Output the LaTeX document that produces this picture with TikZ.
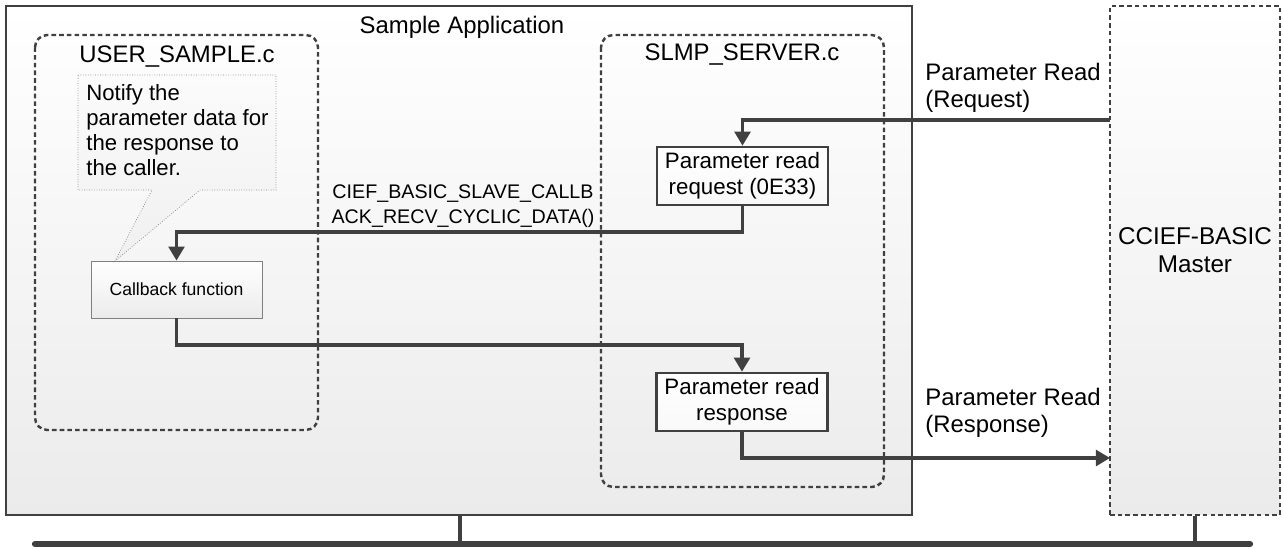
\documentclass[tikz,border=0pt]{standalone}
\usepackage{fontspec}
\setmainfont{Liberation Sans}
\usetikzlibrary{arrows.meta}
\definecolor{linegray}{HTML}{404040}
\definecolor{boxgray}{HTML}{EBEBEB}

\begin{document}
\begin{tikzpicture}[x=0.02cm,y=-0.02cm,font=\fontsize{13.6}{15.5}\selectfont,
  group/.style={draw=linegray,line width=1.4pt,dash pattern=on 2.6pt off 1.8pt,rounded corners=7pt},
  func/.style={draw=linegray,line width=1.5pt,top color=white,bottom color=gray!5,align=center,minimum width=3.42cm,minimum height=1.16cm,inner sep=0pt,font=\fontsize{12.7}{14.6}\selectfont},
  cbbox/.style={draw=gray,line width=0.5pt,top color=white,bottom color=boxgray,minimum width=3.42cm,minimum height=1.14cm,inner sep=0pt,font=\fontsize{10}{12}\selectfont},
  master/.style={draw=linegray,line width=1.4pt,dash pattern=on 2.6pt off 1.8pt,top color=white,bottom color=boxgray,minimum width=3.4cm,minimum height=10.18cm,inner sep=0pt},
  note/.style={draw=gray,line width=0.4pt,densely dotted,top color=gray!3,bottom color=gray!12},
  flow/.style={draw=linegray,line width=1.8pt,-{Triangle[width=9pt,length=8pt]}},
  wire/.style={draw=linegray,line width=1.8pt},
  bus/.style={draw=linegray,line width=3.6pt,line cap=round}]
\useasboundingbox (0,0) rectangle (1284,548);

\draw[draw=linegray,line width=1.5pt,top color=white,bottom color=boxgray] (6,6) rectangle (912,515);
\node[anchor=base] (apptitle) at (462,33) {Sample Application};

\draw[group] (35,35) rectangle (318,430);
\node[anchor=base] (usertitle) at (177,62) {USER\_SAMPLE.c};
\draw[group] (601,35) rectangle (884,487);
\node[anchor=base] (slmptitle) at (742,60) {SLMP\_SERVER.c};

\node[master] (master) at (1195,260.5) {};
\node[align=center,font=\fontsize{13.8}{16}\selectfont] (mastertext) at (1195,250) {CCIEF-BASIC\\Master};

\node[func] (req) at (742.5,176) {Parameter read\\request (0E33)};
\node[func] (resp) at (742,402) {Parameter read\\response};
\node[cbbox] (cb) at (176.5,289.5) {Callback function};

\draw[note] (78,75) -- (276,75) -- (276,190) -- (200,190) -- (115,261) -- (152,190) -- (78,190) -- cycle;
\node[anchor=north west,align=left,inner sep=0pt,font=\fontsize{12.6}{14.2}\selectfont] (notetext) at (86,84) {Notify the\\parameter data for\\the response to\\the caller.};

\coordinate (reqin) at (1110,120);
\coordinate (respout) at (1110,458);
\draw[flow] (reqin) -| (req.north);
\draw[flow] (req.south) -- (req.south |- 0,232) -| (cb.north);
\draw[flow] (cb.south) -- (cb.south |- 0,345) -| (resp.north);
\draw[flow] (resp.south) |- (respout);

\node[anchor=north west,align=left,inner sep=0pt] (reqlabel) at (925,63) {Parameter Read\\(Request)};
\node[anchor=north west,align=left,inner sep=0pt] (resplabel) at (925,388) {Parameter Read\\(Response)};
\node[anchor=north,align=center,inner sep=0pt,font=\fontsize{11.2}{14.2}\selectfont] (cblabel) at (463,184) {CIEF\_BASIC\_SLAVE\_CALLB\\ACK\_RECV\_CYCLIC\_DATA()};

\coordinate (busl) at (35,544);
\coordinate (busr) at (1250,544);
\draw[bus] (busl) -- (busr);
\draw[wire] (460,515) -- (460,544);
\draw[wire] (master.south) -- (master.south |- busl);
\end{tikzpicture}
\end{document}
